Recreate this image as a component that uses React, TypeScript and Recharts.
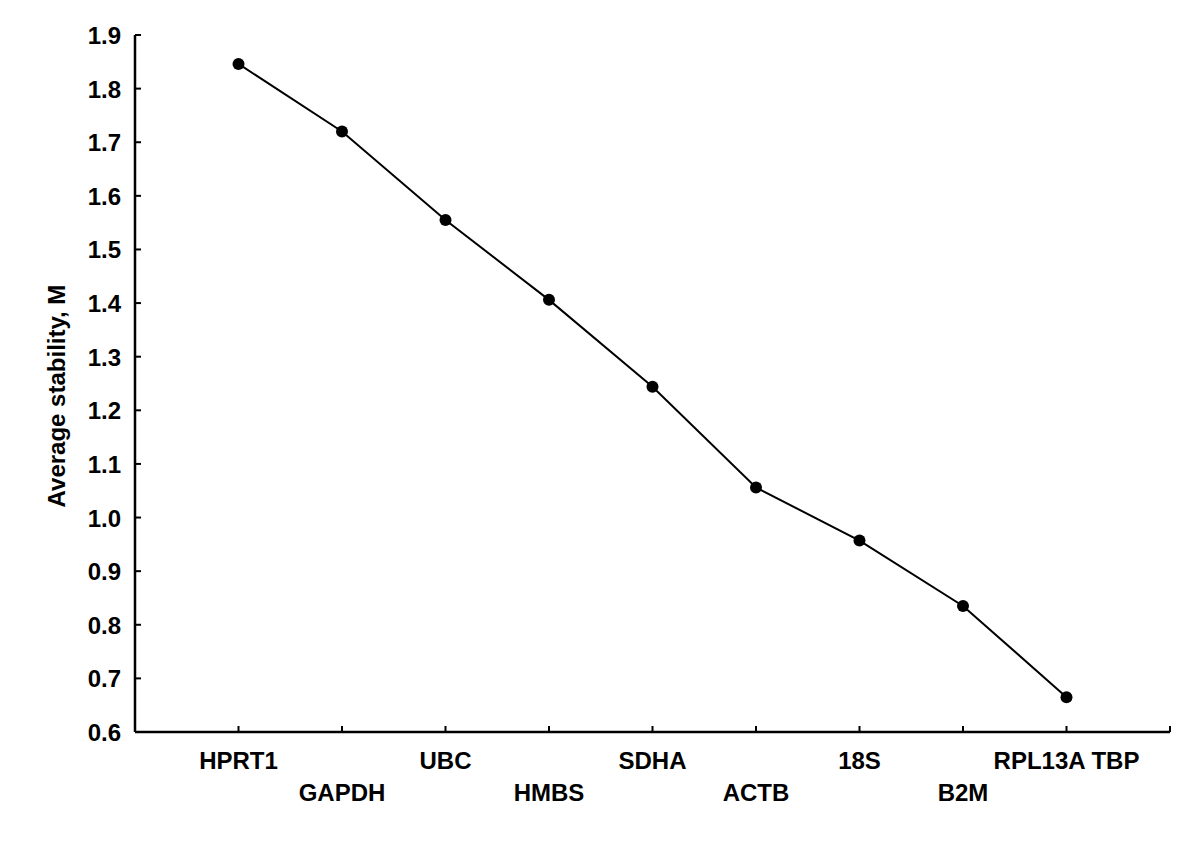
import { LineChart, Line, XAxis, YAxis } from 'recharts';

const genes = ['HPRT1', 'GAPDH', 'UBC', 'HMBS', 'SDHA', 'ACTB', '18S', 'B2M', 'RPL13A TBP'];
const stability = [1.846, 1.72, 1.555, 1.406, 1.244, 1.056, 0.957, 0.835, 0.665];
const xTicks = [0, 1, 2, 3, 4, 5, 6, 7, 8, 9, 10];
const yTicks = [0.6, 0.7, 0.8, 0.9, 1.0, 1.1, 1.2, 1.3, 1.4, 1.5, 1.6, 1.7, 1.8, 1.9];

const data = genes.map((gene, i) => ({ pos: i + 1, gene, value: stability[i] }));

const FONT = '"Liberation Sans", Arial, Helvetica, sans-serif';

const GeneTick = ({ x, y, payload }: { x?: number; y?: number; payload?: { value: number } }) => {
  const idx = payload?.value ?? 0;
  const label = genes[idx - 1];
  const upper = idx % 2 === 1;
  return (
    <g>
      <line x1={x} x2={x} y1={y} y2={(y ?? 0) - 6} stroke="#000" strokeWidth={2} />
      {label && (
        <text
          x={x}
          y={(y ?? 0) + (upper ? 37 : 69)}
          textAnchor="middle"
          fontFamily={FONT}
          fontWeight="bold"
          fontSize={24}
          fill="#000"
        >
          {label}
        </text>
      )}
    </g>
  );
};

const ValueTick = ({ x, y, payload }: { x?: number; y?: number; payload?: { value: number } }) => (
  <g>
    <line x1={x} x2={(x ?? 0) + 6} y1={y} y2={y} stroke="#000" strokeWidth={2} />
    <text
      x={(x ?? 0) - 14}
      y={(y ?? 0) + 9}
      textAnchor="end"
      fontFamily={FONT}
      fontWeight="bold"
      fontSize={24}
      fill="#000"
    >
      {(payload?.value ?? 0).toFixed(1)}
    </text>
  </g>
);

export default function App() {
  return (
    <div style={{ position: 'absolute', left: 0, top: 0, background: '#fff' }}>
      <LineChart width={1200} height={852} data={data} margin={{ top: 35, right: 30, left: 0, bottom: 0 }}>
        <XAxis
          type="number"
          dataKey="pos"
          domain={[0, 10]}
          ticks={xTicks}
          interval={0}
          height={120}
          tickSize={0}
          tickMargin={0}
          tickLine={false}
          tick={<GeneTick />}
          axisLine={{ stroke: '#000', strokeWidth: 2.5 }}
        />
        <YAxis
          type="number"
          domain={[0.6, 1.9]}
          ticks={yTicks}
          interval={0}
          width={135}
          tickSize={0}
          tickMargin={0}
          tickLine={false}
          tick={<ValueTick />}
          axisLine={{ stroke: '#000', strokeWidth: 2.5 }}
          label={{
            value: 'Average stability, M',
            angle: -90,
            position: 'insideLeft',
            content: () => (
              <text
                x={65}
                y={396}
                transform="rotate(-90 65 396)"
                textAnchor="middle"
                fontFamily={FONT}
                fontWeight="bold"
                fontSize={24}
                fill="#000"
              >
                Average stability, M
              </text>
            ),
          }}
        />
        <Line
          type="linear"
          dataKey="value"
          stroke="#000"
          strokeWidth={2}
          dot={{ r: 6, fill: '#000', stroke: '#000', strokeWidth: 0 }}
          activeDot={false}
          isAnimationActive={false}
        />
      </LineChart>
    </div>
  );
}
